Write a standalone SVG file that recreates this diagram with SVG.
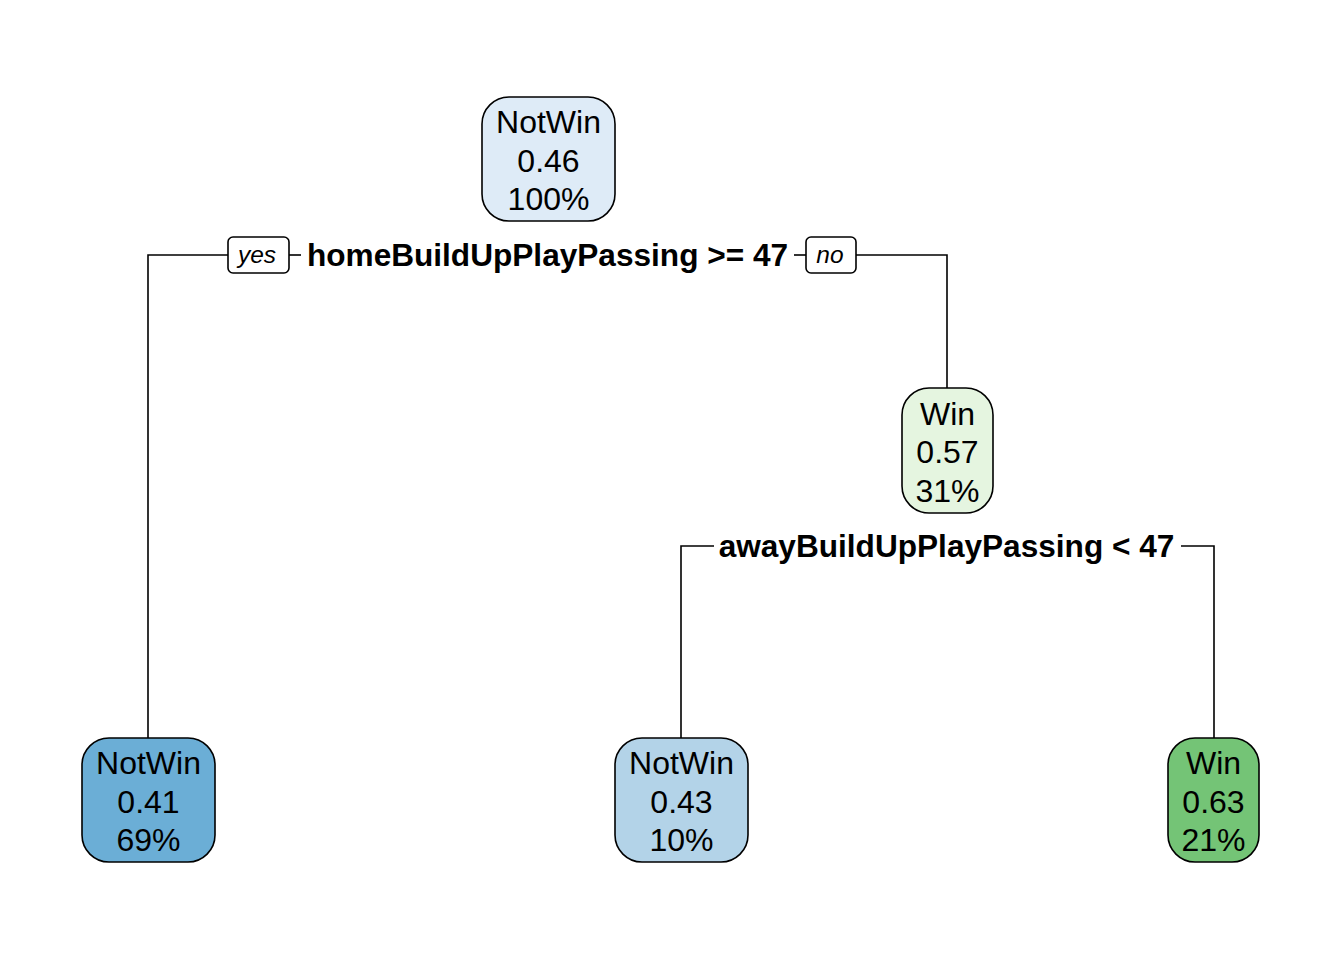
<svg xmlns="http://www.w3.org/2000/svg" width="1344" height="960" viewBox="0 0 1344 960">
<style>
.node{stroke:#000;stroke-width:1.6}
.t{font-family:"Liberation Sans",Arial,sans-serif;font-size:32px;text-anchor:middle;fill:#000}
.split{font-family:"Liberation Sans",Arial,sans-serif;font-size:31.6px;font-weight:bold;text-anchor:middle;fill:#000}
.lab{font-family:"Liberation Sans",Arial,sans-serif;font-size:24.5px;font-style:italic;text-anchor:middle;fill:#000}
.ln{stroke:#000;stroke-width:1.6;fill:none}
.lbox{fill:#fff;stroke:#000;stroke-width:1.6}
</style>
<rect width="1344" height="960" fill="#fff"/>
<g id="connectors">
<polyline class="ln" points="228,255 148,255 148,738"/>
<line class="ln" x1="289" y1="255" x2="301" y2="255"/>
<line class="ln" x1="794" y1="255" x2="806" y2="255"/>
<polyline class="ln" points="856,255 947,255 947,388"/>
<polyline class="ln" points="714,546 681,546 681,738"/>
<polyline class="ln" points="1181,546 1214,546 1214,738"/>
</g>
<g id="split1">
<rect class="lbox" x="228" y="237" width="61" height="36" rx="5"/>
<text class="lab" x="257" y="263">yes</text>
<text class="split" x="547.5" y="266">homeBuildUpPlayPassing &gt;= 47</text>
<rect class="lbox" x="806" y="237" width="50" height="36" rx="5"/>
<text class="lab" x="830" y="263">no</text>
</g>
<g id="split2">
<text class="split" x="946.5" y="557">awayBuildUpPlayPassing &lt; 47</text>
</g>
<g id="node1">
<rect class="node" x="482" y="97" width="133" height="124" rx="27" fill="#DEEBF7"/>
<text class="t" x="548.5" y="133">NotWin</text>
<text class="t" x="548.5" y="171.5">0.46</text>
<text class="t" x="548.5" y="210">100%</text>
</g>
<g id="node3">
<rect class="node" x="902" y="388" width="91" height="125" rx="27" fill="#E5F5E0"/>
<text class="t" x="947.5" y="424.5">Win</text>
<text class="t" x="947.5" y="463">0.57</text>
<text class="t" x="947.5" y="501.5">31%</text>
</g>
<g id="node2">
<rect class="node" x="82" y="738" width="133" height="124" rx="27" fill="#6BAED6"/>
<text class="t" x="148.5" y="774">NotWin</text>
<text class="t" x="148.5" y="812.5">0.41</text>
<text class="t" x="148.5" y="851">69%</text>
</g>
<g id="node6">
<rect class="node" x="615" y="738" width="133" height="124" rx="27" fill="#B3D3E8"/>
<text class="t" x="681.5" y="774">NotWin</text>
<text class="t" x="681.5" y="812.5">0.43</text>
<text class="t" x="681.5" y="851">10%</text>
</g>
<g id="node7">
<rect class="node" x="1168" y="738" width="91" height="124" rx="27" fill="#74C476"/>
<text class="t" x="1213.5" y="774">Win</text>
<text class="t" x="1213.5" y="812.5">0.63</text>
<text class="t" x="1213.5" y="851">21%</text>
</g>
</svg>
